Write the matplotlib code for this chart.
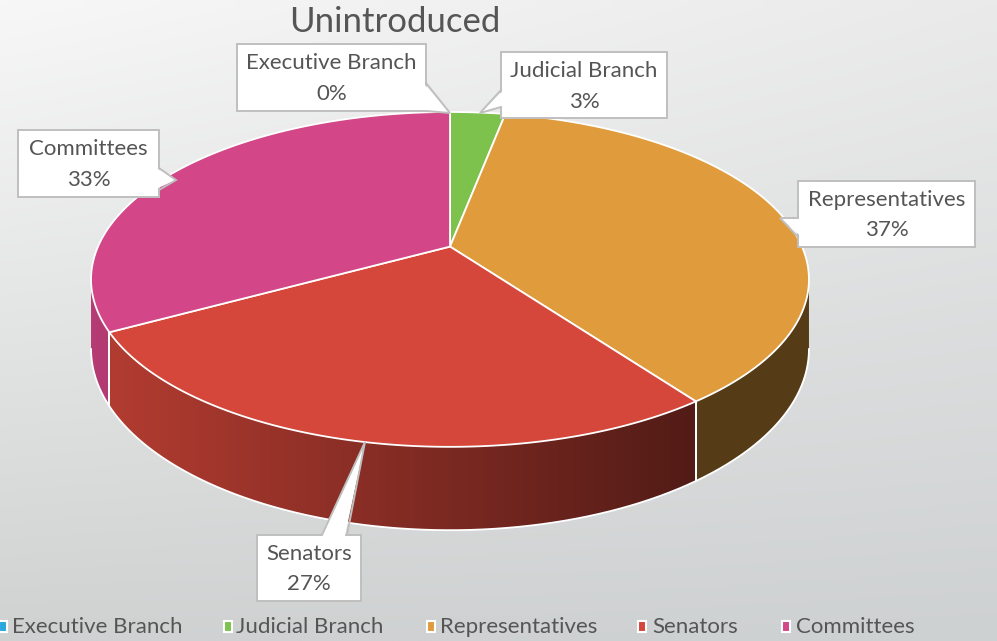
import numpy as np
import matplotlib.pyplot as plt
from matplotlib.patches import Polygon, Rectangle
from matplotlib.colors import to_rgb

categories = ["Executive Branch", "Judicial Branch", "Representatives", "Senators", "Committees"]
shares = [0, 3, 37, 27, 33]
pct_labels = ["0%", "3%", "37%", "27%", "33%"]
colors = ["#2aa7de", "#7cc24d", "#e09c3c", "#d4473a", "#d34687"]
title = "Unintroduced"

plt.rcParams['font.family'] = ['Lato', 'DejaVu Sans']
txtcol = "#555555"

fig = plt.figure(figsize=(9.97, 6.41), dpi=100)
ax = fig.add_axes([0, 0, 1, 1])
ax.set_xlim(0, 997)
ax.set_ylim(641, 0)
ax.axis('off')

# background gradient
gx = np.linspace(0, 1, 60)
gy = np.linspace(0, 1, 60)
GX, GY = np.meshgrid(gx, gy)
tl, tr, bl, br = [np.array(to_rgb(c)) for c in ("#f7f7f7", "#eaeaea", "#d0d2d2", "#ced1d2")]
bg = (tl[None, None, :] * ((1 - GX) * (1 - GY))[..., None] + tr[None, None, :] * (GX * (1 - GY))[..., None]
      + bl[None, None, :] * ((1 - GX) * GY)[..., None] + br[None, None, :] * (GX * GY)[..., None])
ax.imshow(bg, extent=[0, 997, 641, 0], aspect='auto', zorder=0, interpolation='bilinear')

# pie geometry (simple perspective ellipse)
cx, cy = 450, 246.6
rx, ry = 352, 161
k = 0.196
depth = 67

def proj(t):
    s = 1 / (1 + k * np.cos(t))
    return cx + rx * np.sin(t) * s, cy - ry * np.cos(t) * s

def drop(t):
    return depth / (1 + k * np.cos(t))

def shade(x):
    return np.clip(0.85 - 0.46 * (x - 100) / 590, 0.38, 0.86)

fr = np.array(shares, dtype=float) / sum(shares)
bounds = np.concatenate([[0], np.cumsum(fr)]) * 2 * np.pi
t_vis0 = np.arccos(-k)
t_vis1 = 2 * np.pi - t_vis0

# side walls with horizontal gradient
xs_grad = np.linspace(0, 997, 500)
for i, c in enumerate(colors):
    a0, a1 = max(bounds[i], t_vis0), min(bounds[i + 1], t_vis1)
    if a1 <= a0:
        continue
    ts = np.linspace(a0, a1, 150)
    px, py = proj(ts)
    dp = drop(ts)
    pts = list(zip(px, py)) + list(zip(px[::-1], (py + dp)[::-1]))
    poly = Polygon(pts, closed=True, fc='none', ec='none', zorder=2)
    ax.add_patch(poly)
    base = np.array(to_rgb(c))
    grad = (base[None, :] * shade(xs_grad)[:, None])[None, :, :]
    im = ax.imshow(grad, extent=[0, 997, 641, 0], aspect='auto', zorder=2, interpolation='bilinear')
    im.set_clip_path(poly)
    for tt in (bounds[i], bounds[i + 1]):
        if t_vis0 < tt < t_vis1:
            x, y = proj(tt)
            ax.plot([x, x], [y, y + drop(tt)], color='white', lw=1.3, zorder=3)

# bottom outline of side
tb_ = np.linspace(t_vis0, t_vis1, 200)
bx, by = proj(tb_)
ax.plot(bx, by + drop(tb_), color='white', lw=1.3, zorder=3)

# top faces
for i, c in enumerate(colors):
    if shares[i] == 0:
        continue
    ts = np.linspace(bounds[i], bounds[i + 1], 120)
    px, py = proj(ts)
    pts = [(cx, cy)] + list(zip(px, py))
    ax.add_patch(Polygon(pts, closed=True, fc=c, ec='white', lw=1.3, zorder=4, joinstyle='round'))

# callouts
boxes = {
    "Executive Branch": ((237, 44, 426, 111), [(426, 83), (426, 111)], (450, 113)),
    "Judicial Branch": ((501, 52, 667, 118), [(501, 90), (501, 107)], (480, 113)),
    "Representatives": ((798, 181, 975, 247), [(798, 218), (798, 237)], (780, 218)),
    "Senators": ((257, 535, 361, 601), [(322, 535), (347, 535)], (365, 442)),
    "Committees": ((18, 130, 159, 197), [(159, 168), (159, 190)], (176, 180)),
}
edge = "#bfbfbf"
for name, pct in zip(categories, pct_labels):
    (x0, y0, x1, y1), bpts, tip = boxes[name]
    ax.add_patch(Rectangle((x0, y0), x1 - x0, y1 - y0, fc='white', ec=edge, lw=1.4, zorder=6))
    mx, my = (x0 + x1) / 2, (y0 + y1) / 2
    inner = []
    for px_, py_ in bpts:
        dx, dy = mx - px_, my - py_
        n = np.hypot(dx, dy)
        inner.append((px_ + 3 * dx / n, py_ + 3 * dy / n))
    ax.add_patch(Polygon([inner[0], tip, inner[1]], closed=True, fc='white', ec='none', zorder=7))
    ax.plot([bpts[0][0], tip[0], bpts[1][0]], [bpts[0][1], tip[1], bpts[1][1]],
            color=edge, lw=1.4, zorder=8, solid_joinstyle='miter')
    h = y1 - y0
    ax.text(mx, y0 + 0.29 * h, name, ha='center', va='center', fontsize=16, color=txtcol, zorder=9)
    ax.text(mx, y0 + 0.75 * h, pct, ha='center', va='center', fontsize=16, color=txtcol, zorder=9)

# title
ax.text(395, 22, title, ha='center', va='center', fontsize=25, color=txtcol, zorder=9)

# legend
leg_mark_x = [3, 228, 431, 642, 786]
leg_text_x = [12, 236, 440, 652, 796]
for i, name in enumerate(categories):
    ax.add_patch(Rectangle((leg_mark_x[i] - 4, 621), 8, 11, fc=colors[i], ec='white', lw=1.5, zorder=5))
    ax.text(leg_text_x[i], 627, name, ha='left', va='center', fontsize=16, color=txtcol, zorder=9)

fig.savefig("out.png", dpi=100)
